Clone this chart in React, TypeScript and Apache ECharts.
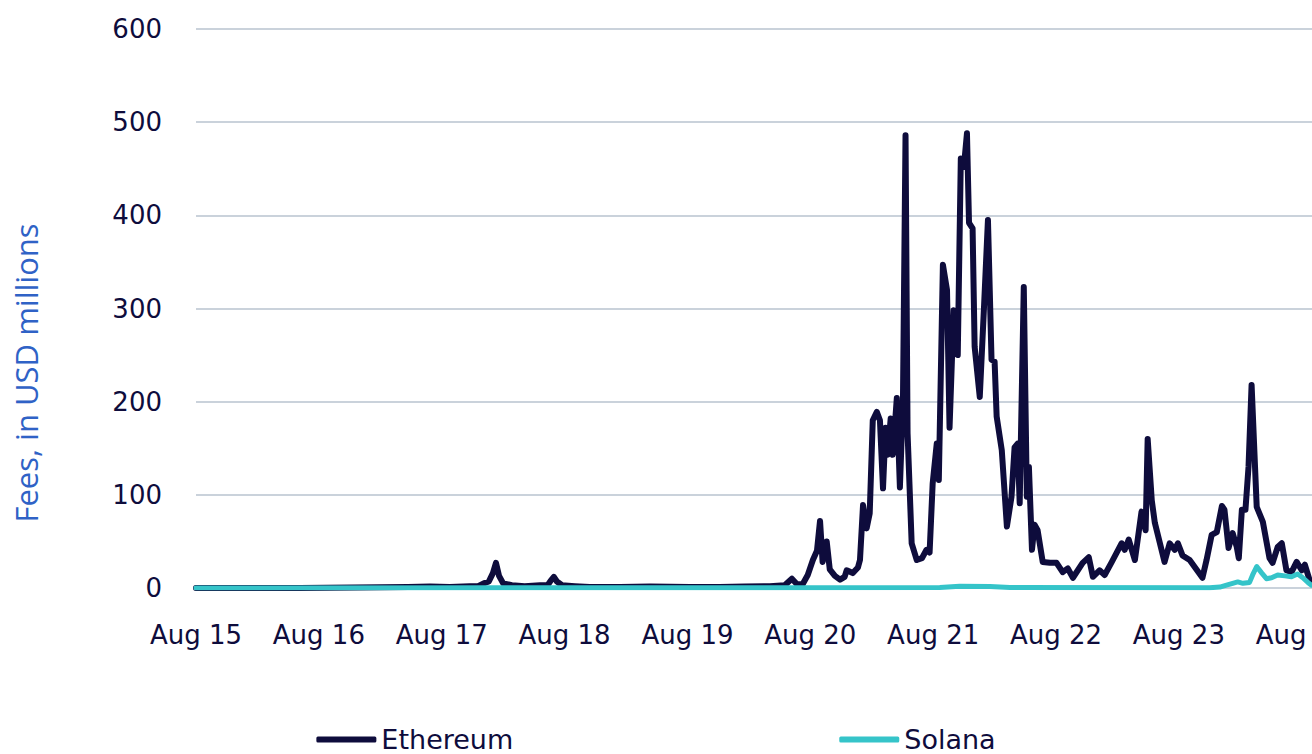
import React, { useEffect, useRef } from "react";
import * as echarts from "echarts";

// Hours since Aug 15 00:00 and fees (USD millions)
const ethHours = [
  0, 20.3, 41.4, 45.7, 49.6, 53.5, 55.1, 56.2, 57.2, 58.0, 58.6, 59.2, 60.0, 61.7, 64.2, 67.2, 68.7, 69.3, 69.9, 70.5,
  71.5, 74.0, 76.9, 82.8, 88.7, 96.5, 102.3, 107.2, 112.1, 115.0, 116.4, 117.4, 118.5, 119.5, 120.5, 121.3, 121.9,
  122.4, 123.2, 123.8, 124.8, 125.8, 126.7, 127.1, 128.3, 129.3, 129.7, 130.3, 131.0, 131.6, 132.2, 133.0, 133.6,
  134.2, 134.7, 135.1, 135.7, 136.1, 136.9, 137.5, 138.1, 138.6, 139.0, 139.8, 140.8, 141.8, 142.7, 143.3, 143.9,
  144.7, 145.1, 145.9, 146.7, 147.2, 148.0, 148.8, 149.4, 150.0, 150.6, 151.0, 151.7, 152.1, 153.1, 153.9, 154.7,
  155.4, 156.0, 156.4, 157.4, 158.4, 159.3, 159.9, 160.5, 160.9, 161.7, 162.3, 162.7, 163.3, 163.8, 164.4, 165.4,
  166.8, 168.1, 169.3, 170.3, 171.3, 173.2, 174.4, 175.2, 176.5, 177.5, 178.9, 180.8, 181.4, 182.2, 183.4, 184.7,
  185.5, 185.9, 186.7, 187.3, 189.2, 190.2, 191.2, 191.8, 192.7, 194.1, 196.6, 197.4, 198.4, 199.4, 200.4, 200.9,
  201.7, 202.5, 203.3, 203.7, 204.3, 205.0, 205.6, 206.2, 207.2, 208.4, 209.7, 210.3, 211.3, 212.1, 213.0, 214.0,
  215.0, 216.0, 216.6, 217.5, 217.9,
];
const ethFees = [
  0, 0, 1, 1.5, 1, 2, 2, 5, 7, 16, 27, 13, 5, 3, 2, 3, 3, 8, 12, 7,
  3, 2, 1, 1, 1.5, 1, 1, 1.5, 2, 3, 10, 4, 4, 14, 30, 40, 72,
  28, 50, 20, 13, 9, 12, 19, 16, 22, 30, 89, 64, 80, 180, 189, 180,
  107, 172, 143, 182, 143, 204, 108, 202, 486, 166, 48, 30, 32, 41, 38, 112,
  155, 116, 347, 320, 172, 298, 250, 461, 452, 488, 392, 386, 259, 205, 298, 395,
  245, 243, 184, 148, 66, 98, 151, 155, 91, 323, 98, 130, 41, 68, 62, 28,
  27, 27, 17, 21, 11, 27, 33, 12, 19, 14, 28, 48, 41, 52, 30, 82,
  62, 160, 94, 70, 28, 48, 41, 48, 35, 30, 11, 30, 57, 60, 88, 84,
  43, 59, 44, 32, 84, 84, 130, 218, 87, 71, 32, 27, 44, 48, 19, 17,
  28, 19, 25, 9, 5,
];

const solHours = [
  0, 145.3, 149.2, 155.1, 159.0, 198.0, 200.0, 201.3, 202.5, 203.5, 204.5, 205.8, 206.4, 207.2, 208.2, 209.1, 210.1,
  211.3, 212.7, 214.0, 215.2, 216.2, 217.2, 217.9,
];
const solFees = [
  0, 0.5, 2, 1.5, 0.5, 0.3, 1, 3, 5, 6.5, 5, 6, 14, 23, 16, 10, 11,
  14, 13, 12, 15, 11, 6, 3,
];

const dayLabels = ["Aug 15", "Aug 16", "Aug 17", "Aug 18", "Aug 19", "Aug 20", "Aug 21", "Aug 22", "Aug 23", "Aug 24"];
const yTicks = [0, 100, 200, 300, 400, 500, 600];

const FONT = "'DejaVu Sans', sans-serif";
const TITLE_FONT = "'Open Sans', 'Noto Sans', sans-serif";
const NAVY = "#0e0c3c";

export default function App() {
  const ref = useRef<HTMLDivElement>(null);
  useEffect(() => {
    if (!ref.current) return;
    const chart = echarts.init(ref.current, undefined, { renderer: "svg" });
    const eth = ethHours.map((h, i) => [h, ethFees[i]]);
    const sol = solHours.map((h, i) => [h, solFees[i]]);
    chart.setOption({
      animation: false,
      backgroundColor: "#ffffff",
      grid: { left: 196, right: 0, top: 29, bottom: 166, containLabel: false, outerBoundsMode: "none" },
      xAxis: {
        type: "value",
        min: 0,
        max: 218,
        interval: 24,
        axisLine: { show: false },
        axisTick: { show: false },
        splitLine: { show: false },
        axisLabel: {
          margin: 34,
          fontSize: 26,
          fontFamily: FONT,
          color: NAVY,
          hideOverlap: false,
          formatter: (v: number) => {
            const i = v / 24;
            return Number.isInteger(i) && dayLabels[i] ? dayLabels[i] : "";
          },
        },
      },
      yAxis: {
        type: "value",
        min: yTicks[0],
        max: yTicks[yTicks.length - 1],
        interval: 100,
        axisLine: { show: false },
        axisTick: { show: false },
        splitLine: { show: true, lineStyle: { color: "#b9c3cf", width: 1.5 } },
        axisLabel: { margin: 34, fontSize: 26, fontFamily: FONT, color: NAVY },
      },
      legend: {
        left: "center",
        top: 726,
        padding: 0,
        icon: "roundRect",
        itemWidth: 60,
        itemHeight: 6,
        itemGap: 326,
        textStyle: { fontSize: 27, lineHeight: 26, fontFamily: FONT, color: NAVY, padding: [0, 0, 0, 0] },
        data: ["Ethereum", "Solana"],
      },
      graphic: [
        {
          type: "text",
          x: 26,
          y: 373,
          rotation: Math.PI / 2,
          style: {
            text: "Fees, in USD millions",
            fontSize: 31,
            fontFamily: TITLE_FONT,
            fill: "#2f62c6",
            textAlign: "center",
            textVerticalAlign: "middle",
          },
        },
      ],
      series: [
        {
          name: "Ethereum",
          type: "line",
          data: eth,
          symbol: "none",
          color: NAVY,
          lineStyle: { width: 6, color: NAVY, join: "round", cap: "round" },
          z: 2,
        },
        {
          name: "Solana",
          type: "line",
          data: sol,
          symbol: "none",
          color: "#35c4c9",
          lineStyle: { width: 5, color: "#35c4c9", join: "round", cap: "round" },
          z: 3,
        },
      ],
    });
    return () => chart.dispose();
  }, []);
  return <div ref={ref} style={{ width: 1312, height: 754, position: "absolute", left: 0, top: 0 }} />;
}
